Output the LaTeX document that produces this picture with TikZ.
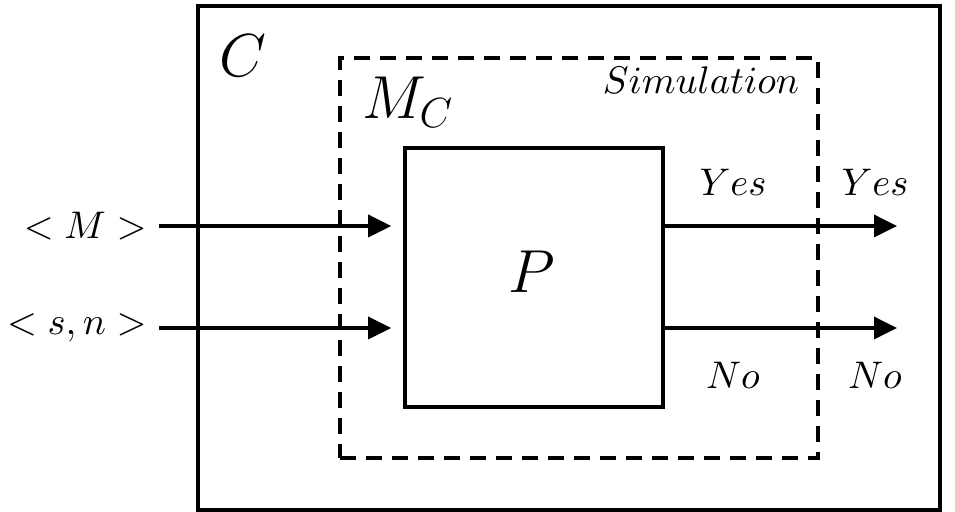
\documentclass[tikz,border=0pt]{standalone}
\usepackage{amsmath}
\usetikzlibrary{arrows.meta}
\begin{document}
\begin{tikzpicture}[
    every node/.style={font=\fontsize{10.7}{13}\selectfont},
    box/.style={draw, line width=1pt, inner sep=0pt},
    arr/.style={-{Triangle[length=2.3mm,width=2.2mm]}, line width=1pt}]
    \useasboundingbox (0,0) rectangle (9.55,5.12);
    % Outer machine C
    \node[box, minimum width=7.42cm, minimum height=5.04cm] (C) at (5.69,2.54) {};
    \node (Clabel) at (2.43,4.56) {\LARGE $C$};

    % Simulation (dashed)
    \node[box, dash pattern=on 1.6mm off 1mm, minimum width=4.78cm, minimum height=4.00cm] (sim) at (5.79,2.54) {};
    \node (MC) at (4.08,4.10) {\LARGE $M_C$};
    \node (simlabel) at (7.01,4.32) {$Simulation$};

    % Program P
    \node[box, minimum width=2.58cm, minimum height=2.59cm] (P) at (5.34,2.345) {};
    \node (Plabel) at (5.32,2.40) {\LARGE $P$};

    % Inputs
    \coordinate (inM) at (1.59,2.86);
    \coordinate (inSN) at (1.59,1.84);
    \node[left] (M) at (inM) {$<M>$};
    \node[left] (SN) at (inSN) {$<s,n>$};
    \draw[arr, shorten >=1.2mm] (inM) -- (inM -| P.west);
    \draw[arr, shorten >=1.2mm] (inSN) -- (inSN -| P.west);

    % Outputs
    \coordinate (outYes) at (8.97,2.86);
    \coordinate (outNo) at (8.97,1.84);
    \draw[arr] (outYes -| P.east) -- (outYes);
    \draw[arr] (outNo -| P.east) -- (outNo);
    \node (yes1) at (7.33,3.30) {$Yes$};
    \node (yes2) at (8.75,3.30) {$Yes$};
    \node (no1) at (7.33,1.37) {$No$};
    \node (no2) at (8.75,1.37) {$No$};
\end{tikzpicture}
\end{document}
